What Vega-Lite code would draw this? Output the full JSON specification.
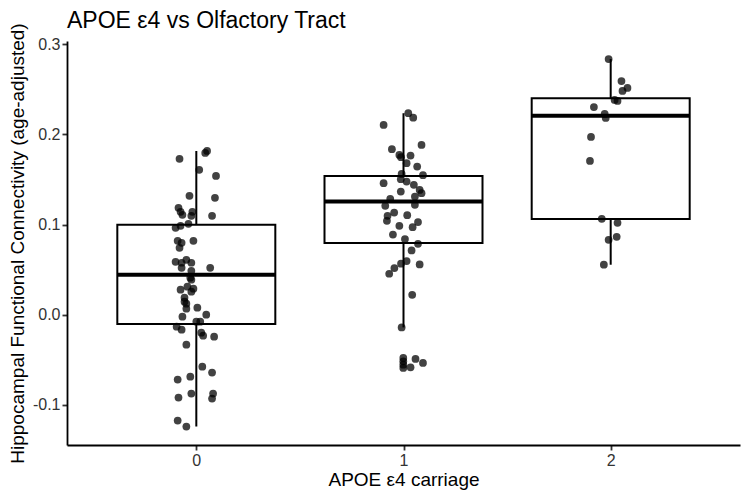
{
  "$schema": "https://vega.github.io/schema/vega-lite/v6.json",
  "autosize": {"type": "none"},
  "width": 673,
  "height": 404,
  "padding": {"left": 67, "top": 41, "right": 10, "bottom": 56},
  "background": "white",
  "title": {
    "text": "APOE ε4 vs Olfactory Tract",
    "anchor": "start",
    "frame": "group",
    "font": "Liberation Sans",
    "fontSize": 23,
    "fontWeight": "normal",
    "color": "black",
    "offset": 7,
    "dy": 17
  },
  "datasets": {
    "boxes": [
      {"carriage": 0, "lower": -0.124, "q1": -0.0103, "median": 0.0443, "q3": 0.0997, "upper": 0.1816},
      {"carriage": 1, "lower": -0.0141, "q1": 0.0794, "median": 0.1255, "q3": 0.1539, "upper": 0.2234},
      {"carriage": 2, "lower": 0.0554, "q1": 0.106, "median": 0.2207, "q3": 0.24, "upper": 0.2835}
    ],
    "subjects": [
      {"carriage": 0, "pos": -0.081, "fc": 0.1728},
      {"carriage": 0, "pos": 0.043, "fc": 0.1794},
      {"carriage": 0, "pos": 0.052, "fc": 0.1816},
      {"carriage": 0, "pos": 0.014, "fc": 0.1606},
      {"carriage": 0, "pos": 0.095, "fc": 0.1539},
      {"carriage": 0, "pos": -0.033, "fc": 0.1318},
      {"carriage": 0, "pos": 0.09, "fc": 0.1296},
      {"carriage": 0, "pos": -0.086, "fc": 0.1185},
      {"carriage": 0, "pos": -0.076, "fc": 0.1141},
      {"carriage": 0, "pos": -0.067, "fc": 0.1107},
      {"carriage": 0, "pos": -0.019, "fc": 0.1141},
      {"carriage": 0, "pos": -0.024, "fc": 0.1096},
      {"carriage": 0, "pos": 0.076, "fc": 0.1096},
      {"carriage": 0, "pos": -0.1, "fc": 0.0963},
      {"carriage": 0, "pos": -0.076, "fc": 0.0986},
      {"carriage": 0, "pos": -0.038, "fc": 0.1008},
      {"carriage": 0, "pos": -0.09, "fc": 0.0819},
      {"carriage": 0, "pos": -0.071, "fc": 0.0797},
      {"carriage": 0, "pos": -0.081, "fc": 0.0742},
      {"carriage": 0, "pos": -0.014, "fc": 0.0819},
      {"carriage": 0, "pos": -0.1, "fc": 0.0587},
      {"carriage": 0, "pos": -0.071, "fc": 0.0576},
      {"carriage": 0, "pos": -0.048, "fc": 0.0609},
      {"carriage": 0, "pos": -0.024, "fc": 0.0576},
      {"carriage": 0, "pos": -0.071, "fc": 0.052},
      {"carriage": 0, "pos": 0.067, "fc": 0.052},
      {"carriage": 0, "pos": -0.024, "fc": 0.0487},
      {"carriage": 0, "pos": -0.029, "fc": 0.041},
      {"carriage": 0, "pos": -0.024, "fc": 0.0388},
      {"carriage": 0, "pos": -0.076, "fc": 0.0277},
      {"carriage": 0, "pos": -0.043, "fc": 0.031},
      {"carriage": 0, "pos": -0.014, "fc": 0.0288},
      {"carriage": 0, "pos": -0.024, "fc": 0.0255},
      {"carriage": 0, "pos": -0.057, "fc": 0.0188},
      {"carriage": 0, "pos": -0.057, "fc": 0.0144},
      {"carriage": 0, "pos": -0.048, "fc": 0.0122},
      {"carriage": 0, "pos": -0.048, "fc": 0.0066},
      {"carriage": 0, "pos": 0.005, "fc": 0.0078},
      {"carriage": 0, "pos": -0.067, "fc": -0.0022},
      {"carriage": 0, "pos": 0.048, "fc": 0.0},
      {"carriage": 0, "pos": 0.0, "fc": -0.0078},
      {"carriage": 0, "pos": 0.019, "fc": -0.0078},
      {"carriage": 0, "pos": -0.095, "fc": -0.0133},
      {"carriage": 0, "pos": -0.071, "fc": -0.0166},
      {"carriage": 0, "pos": 0.024, "fc": -0.0199},
      {"carriage": 0, "pos": 0.033, "fc": -0.0233},
      {"carriage": 0, "pos": 0.086, "fc": -0.0244},
      {"carriage": 0, "pos": -0.048, "fc": -0.0332},
      {"carriage": 0, "pos": 0.029, "fc": -0.0576},
      {"carriage": 0, "pos": 0.076, "fc": -0.0642},
      {"carriage": 0, "pos": -0.09, "fc": -0.072},
      {"carriage": 0, "pos": -0.029, "fc": -0.0687},
      {"carriage": 0, "pos": -0.086, "fc": -0.0919},
      {"carriage": 0, "pos": -0.024, "fc": -0.0875},
      {"carriage": 0, "pos": 0.081, "fc": -0.0875},
      {"carriage": 0, "pos": 0.076, "fc": -0.093},
      {"carriage": 0, "pos": -0.09, "fc": -0.1174},
      {"carriage": 0, "pos": -0.048, "fc": -0.124},
      {"carriage": 1, "pos": 1.023, "fc": 0.2234},
      {"carriage": 1, "pos": 1.047, "fc": 0.2185},
      {"carriage": 1, "pos": 0.904, "fc": 0.2104},
      {"carriage": 1, "pos": 1.087, "fc": 0.1883},
      {"carriage": 1, "pos": 0.944, "fc": 0.1835},
      {"carriage": 1, "pos": 0.98, "fc": 0.1772},
      {"carriage": 1, "pos": 0.988, "fc": 0.1746},
      {"carriage": 1, "pos": 1.034, "fc": 0.1764},
      {"carriage": 1, "pos": 1.015, "fc": 0.168},
      {"carriage": 1, "pos": 1.066, "fc": 0.1642},
      {"carriage": 1, "pos": 1.094, "fc": 0.1547},
      {"carriage": 1, "pos": 0.991, "fc": 0.1561},
      {"carriage": 1, "pos": 0.987, "fc": 0.1503},
      {"carriage": 1, "pos": 1.015, "fc": 0.1476},
      {"carriage": 1, "pos": 0.904, "fc": 0.1458},
      {"carriage": 1, "pos": 1.05, "fc": 0.144},
      {"carriage": 1, "pos": 1.078, "fc": 0.1384},
      {"carriage": 1, "pos": 1.087, "fc": 0.1348},
      {"carriage": 1, "pos": 0.987, "fc": 0.1365},
      {"carriage": 1, "pos": 1.055, "fc": 0.131},
      {"carriage": 1, "pos": 0.936, "fc": 0.1285},
      {"carriage": 1, "pos": 0.912, "fc": 0.1207},
      {"carriage": 1, "pos": 1.055, "fc": 0.1218},
      {"carriage": 1, "pos": 0.955, "fc": 0.1133},
      {"carriage": 1, "pos": 0.923, "fc": 0.1096},
      {"carriage": 1, "pos": 0.92, "fc": 0.1041},
      {"carriage": 1, "pos": 1.018, "fc": 0.1104},
      {"carriage": 1, "pos": 1.07, "fc": 0.1027},
      {"carriage": 1, "pos": 0.98, "fc": 0.0986},
      {"carriage": 1, "pos": 1.044, "fc": 0.0971},
      {"carriage": 1, "pos": 0.949, "fc": 0.0889},
      {"carriage": 1, "pos": 1.007, "fc": 0.0838},
      {"carriage": 1, "pos": 1.07, "fc": 0.0786},
      {"carriage": 1, "pos": 1.039, "fc": 0.0712},
      {"carriage": 1, "pos": 1.015, "fc": 0.0595},
      {"carriage": 1, "pos": 0.988, "fc": 0.0565},
      {"carriage": 1, "pos": 1.078, "fc": 0.0557},
      {"carriage": 1, "pos": 0.956, "fc": 0.0517},
      {"carriage": 1, "pos": 0.931, "fc": 0.0454},
      {"carriage": 1, "pos": 1.042, "fc": 0.0221},
      {"carriage": 1, "pos": 0.991, "fc": -0.0141},
      {"carriage": 1, "pos": 0.999, "fc": -0.048},
      {"carriage": 1, "pos": 0.999, "fc": -0.0517},
      {"carriage": 1, "pos": 0.999, "fc": -0.0554},
      {"carriage": 1, "pos": 0.999, "fc": -0.059},
      {"carriage": 1, "pos": 1.034, "fc": -0.0584},
      {"carriage": 1, "pos": 1.058, "fc": -0.0491},
      {"carriage": 1, "pos": 1.094, "fc": -0.0535},
      {"carriage": 2, "pos": 1.99, "fc": 0.2835},
      {"carriage": 2, "pos": 2.052, "fc": 0.2591},
      {"carriage": 2, "pos": 2.081, "fc": 0.2514},
      {"carriage": 2, "pos": 2.057, "fc": 0.2481},
      {"carriage": 2, "pos": 2.019, "fc": 0.2381},
      {"carriage": 2, "pos": 2.033, "fc": 0.237},
      {"carriage": 2, "pos": 1.919, "fc": 0.2303},
      {"carriage": 2, "pos": 1.971, "fc": 0.2226},
      {"carriage": 2, "pos": 1.976, "fc": 0.2182},
      {"carriage": 2, "pos": 1.905, "fc": 0.1971},
      {"carriage": 2, "pos": 1.9, "fc": 0.1705},
      {"carriage": 2, "pos": 1.957, "fc": 0.1063},
      {"carriage": 2, "pos": 2.033, "fc": 0.1019},
      {"carriage": 2, "pos": 1.99, "fc": 0.0831},
      {"carriage": 2, "pos": 2.029, "fc": 0.0864},
      {"carriage": 2, "pos": 1.967, "fc": 0.0554}
    ]
  },
  "config": {
    "view": {"stroke": null},
    "font": "Liberation Sans",
    "axis": {
      "grid": false,
      "domainColor": "black",
      "domainWidth": 1.8,
      "tickColor": "#333333",
      "tickWidth": 1.8,
      "tickSize": 5,
      "labelFont": "Liberation Sans",
      "labelFontSize": 16,
      "labelColor": "#333333",
      "labelPadding": 2,
      "titleFont": "Liberation Sans",
      "titleFontSize": 19,
      "titleFontWeight": "normal",
      "titleColor": "black"
    }
  },
  "layer": [
    {
      "data": {"name": "boxes"},
      "mark": {"type": "rule", "color": "black", "strokeWidth": 2},
      "encoding": {
        "x": {
          "field": "carriage",
          "type": "quantitative",
          "scale": {"domain": [-0.6, 2.6], "nice": false, "zero": false},
          "axis": {"values": [0, 1, 2], "format": "d", "title": "APOE ε4 carriage", "titlePadding": 2}
        },
        "y": {
          "field": "lower",
          "type": "quantitative",
          "scale": {"domain": [-0.1445, 0.3035], "nice": false, "zero": false},
          "axis": {
            "values": [-0.1, 0, 0.1, 0.2, 0.3],
            "labelExpr": "datum.value < 0 ? '-' + format(-datum.value, '.1f') : format(datum.value, '.1f')",
            "title": "Hippocampal Functional Connectivity (age-adjusted)",
            "titlePadding": 5
          }
        },
        "y2": {"field": "upper"}
      }
    },
    {
      "data": {"name": "boxes"},
      "mark": {"type": "bar", "width": 158, "fill": "white", "stroke": "black", "strokeWidth": 2},
      "encoding": {
        "x": {"field": "carriage", "type": "quantitative"},
        "y": {"field": "q1", "type": "quantitative"},
        "y2": {"field": "q3"}
      }
    },
    {
      "data": {"name": "boxes"},
      "mark": {"type": "tick", "orient": "horizontal", "size": 158, "thickness": 4, "color": "black", "opacity": 1},
      "encoding": {
        "x": {"field": "carriage", "type": "quantitative"},
        "y": {"field": "median", "type": "quantitative"}
      }
    },
    {
      "data": {"name": "subjects"},
      "mark": {"type": "circle", "size": 60, "color": "black", "opacity": 0.74},
      "encoding": {
        "x": {"field": "pos", "type": "quantitative"},
        "y": {"field": "fc", "type": "quantitative"}
      }
    }
  ]
}
